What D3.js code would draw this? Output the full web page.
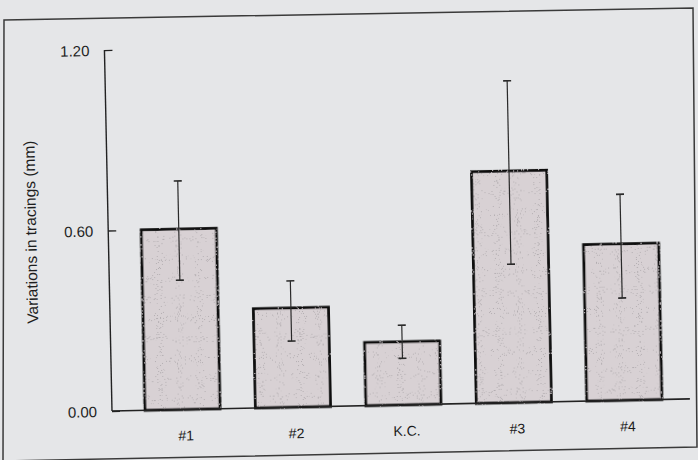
<!DOCTYPE html>
<html>
<head>
<meta charset="utf-8">
<script src="https://cdn.jsdelivr.net/npm/d3@7"></script>
<style>
  body { margin: 0; background: #e5e6e8; }
  svg { display: block; }
</style>
</head>
<body>
<script>
var width = 698;
var height = 460;

// Data.
var categories = ['#1', '#2', 'K.C.', '#3', '#4'];
var means = [0.60, 0.33, 0.21, 0.77, 0.52];
var errLow = [0.43, 0.22, 0.155, 0.46, 0.34];
var errHigh = [0.76, 0.42, 0.265, 1.07, 0.685];
var yTicks = [0, 0.6, 1.2];

// Layout (the scan is tilted a little, so the plot is rotated round its origin).
var originX = 112, originY = 411;
var plotW = 578, plotH = 361;
var tilt = -1.2;

var svg = d3.select('body')
  .append('svg')
  .attr('width', width)
  .attr('height', height);

// Page frame.
svg.append('path')
  .attr('d', 'M4,20 L693,8 L697,447 L3,461 Z')
  .attr('fill', 'none')
  .attr('stroke', '#3a3a3a')
  .attr('stroke-width', 1.5);

// Speckled fill for the bars.
var defs = svg.append('defs');
var filter = defs.append('filter').attr('id', 'speckle');
filter.append('feTurbulence')
  .attr('type', 'fractalNoise')
  .attr('baseFrequency', 0.95)
  .attr('numOctaves', 1)
  .attr('seed', 5)
  .attr('result', 'noise');
filter.append('feColorMatrix')
  .attr('in', 'noise')
  .attr('type', 'matrix')
  .attr('values', '0 0 0 0 0.45  0 0 0 0 0.42  0 0 0 0 0.44  0 0 0 -40 13.2')
  .attr('result', 'dots');
filter.append('feComposite')
  .attr('in', 'dots')
  .attr('in2', 'SourceGraphic')
  .attr('operator', 'in')
  .attr('result', 'dotsIn');
filter.append('feMerge').selectAll('feMergeNode')
  .data(['SourceGraphic', 'dotsIn'])
  .enter().append('feMergeNode')
  .attr('in', function(d) { return d; });

var g = svg.append('g')
  .attr('transform', 'translate(' + originX + ',' + originY + ') rotate(' + tilt + ')');

var x = d3.scaleBand()
  .domain(categories)
  .range([33, 550])
  .paddingInner(0.32)
  .paddingOuter(0);

var y = d3.scaleLinear()
  .domain([0, 1.2])
  .range([0, -plotH]);

// Bars.
g.append('g')
  .selectAll('rect')
  .data(means)
  .enter().append('rect')
  .attr('x', function(d, i) { return x(categories[i]); })
  .attr('y', function(d) { return y(d); })
  .attr('width', x.bandwidth())
  .attr('height', function(d) { return -y(d); })
  .attr('fill', '#d8d1d4')
  .attr('filter', 'url(#speckle)')
  .attr('stroke', '#111')
  .attr('stroke-width', 2.8);

// Error bars.
var err = g.append('g')
  .selectAll('g')
  .data(means)
  .enter().append('g')
  .attr('transform', function(d, i) { return 'translate(' + (x(categories[i]) + x.bandwidth() / 2) + ',0)'; });

err.append('line')
  .attr('y1', function(d, i) { return y(errLow[i]); })
  .attr('y2', function(d, i) { return y(errHigh[i]); })
  .attr('stroke', '#2a2a2a')
  .attr('stroke-width', 1.2);

err.selectAll('.cap')
  .data(function(d, i) { return [errLow[i], errHigh[i]]; })
  .enter().append('line')
  .attr('class', 'cap')
  .attr('x1', -4)
  .attr('x2', 4)
  .attr('y1', function(d) { return y(d); })
  .attr('y2', function(d) { return y(d); })
  .attr('stroke', '#2a2a2a')
  .attr('stroke-width', 1.6);

// Y axis.
var yAxis = d3.axisRight(y)
  .tickValues(yTicks)
  .tickSize(8)
  .tickFormat(d3.format('.2f'));

var ya = g.append('g').call(yAxis);
ya.select('.domain').remove();
ya.selectAll('.tick line')
  .attr('stroke', '#222')
  .attr('stroke-width', 1.4);
ya.selectAll('.tick text')
  .attr('x', -15)
  .attr('dy', '0.35em')
  .attr('text-anchor', 'end')
  .attr('font-family', 'Liberation Sans, Arial, sans-serif')
  .attr('font-size', 15)
  .attr('fill', '#1e1e1e');

g.append('line')
  .attr('y1', y(0))
  .attr('y2', y(1.2))
  .attr('stroke', '#222')
  .attr('stroke-width', 1.4);

// X axis baseline and labels.
g.append('line')
  .attr('x1', 0)
  .attr('x2', plotW)
  .attr('y1', 0)
  .attr('y2', 0)
  .attr('stroke', '#222')
  .attr('stroke-width', 1.6);

g.append('g')
  .selectAll('text')
  .data(categories)
  .enter().append('text')
  .attr('x', function(d) { return x(d) + x.bandwidth() / 2 + 3; })
  .attr('y', 31)
  .attr('text-anchor', 'middle')
  .attr('font-family', 'Liberation Sans, Arial, sans-serif')
  .attr('font-size', 14)
  .attr('fill', '#1a1a1a')
  .text(function(d) { return d; });

// Y axis title.
g.append('text')
  .attr('transform', 'translate(-72,' + y(0.6) + ') rotate(-90)')
  .attr('text-anchor', 'middle')
  .attr('font-family', 'Liberation Sans, Arial, sans-serif')
  .attr('font-size', 15.5)
  .attr('fill', '#1e1e1e')
  .text('Variations in tracings (mm)');
</script>
</body>
</html>
